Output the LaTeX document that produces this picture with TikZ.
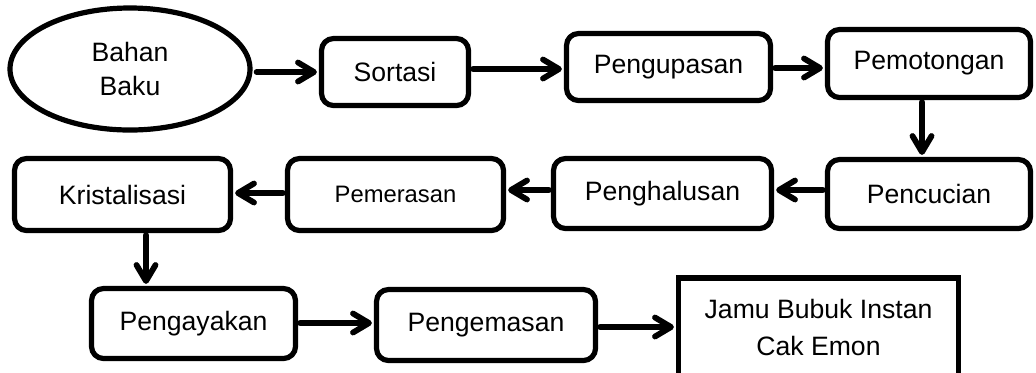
\documentclass[tikz,border=0pt]{standalone}
\usepackage{fontspec}
\setmainfont{Liberation Sans}
\usetikzlibrary{arrows.meta,shapes.geometric}

\tikzset{
  stepbox/.style={draw, line width=2.6pt, rounded corners=6pt, align=center,
    font=\fontsize{13.3}{17}\selectfont, inner sep=0pt},
  flow/.style={line width=2.9pt, line cap=round,
    -{Straight Barb[length=8pt,width=9.5pt,line width=2.9pt,round]},
    preaction={draw=black!22, transform canvas={shift={(0.8pt,-0.9pt)}}}},
}

\begin{document}
\begin{tikzpicture}[x=0.5pt,y=-0.5pt]
  \useasboundingbox (0,0) rectangle (1036,372);
  \clip (0,0) rectangle (1036,372);

  % first row
  \node[draw, ellipse, line width=2.6pt, minimum width=120pt, minimum height=61pt,
        align=center, font=\fontsize{13.3}{17}\selectfont, inner sep=0pt]
        (base) at (130,69) {Bahan\\Baku};
  \node[stepbox, minimum width=73.5pt, minimum height=33.5pt] (sortasi)    at (395,72)    {Sortasi};
  \node[stepbox, minimum width=102pt, minimum height=33.5pt]  (pengupasan) at (668.5,67)  {Pengupasan};
  \node[stepbox, minimum width=101.5pt, minimum height=34pt]  (pemotongan) at (929,63.5)  {Pemotongan};

  % second row (right to left)
  \node[stepbox, minimum width=101.5pt, minimum height=34.5pt] (pencucian)    at (929,194)     {Pencucian};
  \node[stepbox, minimum width=109pt, minimum height=35pt]     (penghalusan)  at (662.5,193.5) {Penghalusan};
  \node[stepbox, minimum width=108pt, minimum height=36pt, font=\fontsize{11.9}{15}\selectfont]
        (pemerasan)    at (395.5,194.5) {Pemerasan};
  \node[stepbox, minimum width=108pt, minimum height=36pt]     (kristalisasi) at (122.5,194.5) {Kristalisasi};

  % third row
  \node[stepbox, minimum width=102pt, minimum height=35pt]   (pengayakan) at (193.5,323.5) {Pengayakan};
  \node[stepbox, minimum width=109.5pt, minimum height=35.5pt] (pengemasan) at (486,325)   {Pengemasan};
  \node[draw, line width=2.6pt, minimum width=140pt, minimum height=49pt, align=center,
        font=\fontsize{13.3}{18.5}\selectfont, inner sep=0pt]
        (jamu) at (818.5,327) {Jamu Bubuk Instan\\Cak Emon};

  % connectors
  \draw[flow] ([xshift=2pt]base.east |- sortasi.west) -- ([xshift=-1pt]sortasi.west);
  \draw[flow] ([xshift=1pt]sortasi.east |- 0,69) -- ([xshift=-1pt]pengupasan.west |- 0,69);
  \draw[flow] ([xshift=1pt]pengupasan.east |- 0,68) -- ([xshift=-1pt]pemotongan.west |- 0,68);
  \draw[flow] ([xshift=-3.5pt,yshift=-1pt]pemotongan.south) -- ([xshift=-3.5pt,yshift=1pt]pemotongan.south |- pencucian.north);
  \draw[flow] ([xshift=-1pt]pencucian.west |- 0,190) -- ([xshift=1pt]penghalusan.east |- 0,190);
  \draw[flow] ([xshift=-1pt]penghalusan.west |- 0,190) -- ([xshift=1pt]pemerasan.east |- 0,190);
  \draw[flow] ([xshift=-1pt]pemerasan.west |- 0,193) -- ([xshift=1pt]kristalisasi.east |- 0,193);
  \draw[flow] ([xshift=-23.75pt,yshift=-1pt]kristalisasi.south -| pengayakan.north) -- ([xshift=-23.75pt,yshift=1pt]pengayakan.north);
  \draw[flow] ([xshift=1pt]pengayakan.east |- 0,323) -- ([xshift=-1pt]pengemasan.west |- 0,323);
  \draw[flow] ([xshift=1pt]pengemasan.east |- 0,327) -- ([xshift=-1pt]jamu.west |- 0,327);
\end{tikzpicture}
\end{document}
